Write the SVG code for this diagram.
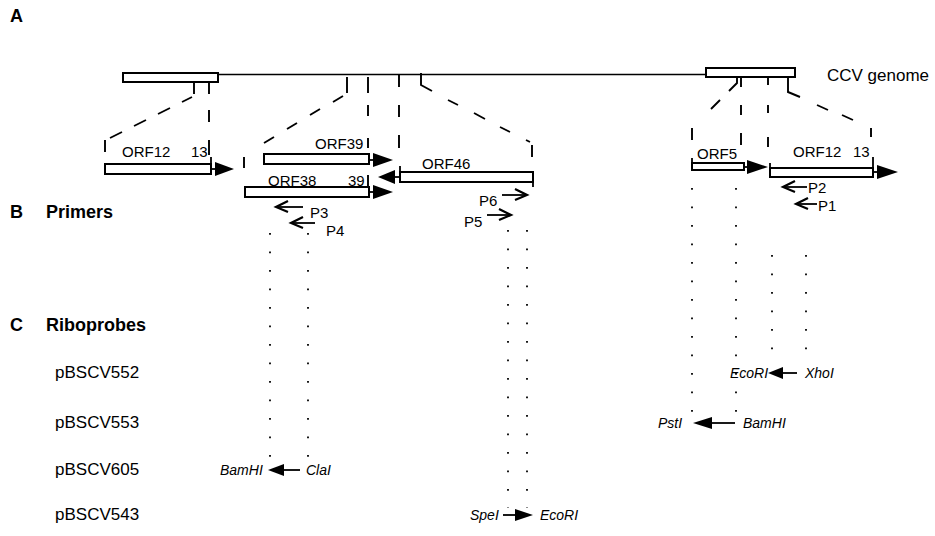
<svg xmlns="http://www.w3.org/2000/svg" width="935" height="536" viewBox="0 0 935 536">
<defs>
<style>
text{font-family:"Liberation Sans",Arial,sans-serif;fill:#000}
.orf{font-size:15px}
.big{font-size:17px}
.hd{font-size:18px;font-weight:bold}
.pl{font-size:15px}
.re{font-size:14px;font-style:italic}
.box{fill:#fff;stroke:#000;stroke-width:2}
.ln{fill:none;stroke:#000;stroke-width:1.8}
.gl{fill:none;stroke:#000;stroke-width:1.5}
.dsh{fill:none;stroke:#000;stroke-width:1.9}
.dot{fill:none;stroke:#000;stroke-width:1.8;stroke-dasharray:1.8 16.7}
.head{fill:#000;stroke:none}
.open{fill:none;stroke:#000;stroke-width:2.2;stroke-linejoin:miter}
</style>
</defs>
<rect width="935" height="536" fill="#fff"/>

<g id="section-labels">
<text class="hd" x="10" y="22">A</text>
<text class="hd" x="10" y="218">B</text>
<text class="hd" x="46" y="218">Primers</text>
<text class="hd" x="10" y="331">C</text>
<text class="hd" x="46" y="331">Riboprobes</text>
<text class="big" x="55" y="378">pBSCV552</text>
<text class="big" x="55" y="428">pBSCV553</text>
<text class="big" x="55" y="475">pBSCV605</text>
<text class="big" x="55" y="520">pBSCV543</text>
</g>

<g id="genome">
<line class="gl" x1="218" y1="74.5" x2="706" y2="74.5"/>
<rect class="box" x="123" y="73" width="95" height="9"/>
<rect class="box" x="706" y="68" width="89" height="9"/>
<text class="big" x="827" y="81">CCV genome</text>
</g>

<g id="connectors">
<path class="dsh" d="M194,82 V94 M192,97 L182,102 M170,108 L158,114 M146,120 L134,126 M122,132 L110,138 M105,140 V152"/>
<path class="dsh" d="M209,82 V94 M209,110 V122 M209,140 V155"/>
<path class="dsh" d="M347,77 V93 M343,96 L333,102 M320,109 L310,115 M297,123 L287,129 M274,137 L264,143 M244,157 V168"/>
<path class="dsh" d="M368,77 V93 M368,105 V116 M368,138 V148 M368,175 V187"/>
<path class="dsh" d="M399,75 V87 M399,105 V117 M399,135 V148"/>
<path class="dsh" d="M421,73 V85 L432,91 M448,100 L458,105 M474,113 L485,119 M500,127 L510,132 M526,140 L530,142 M532,145 V157"/>
<path class="dsh" d="M737,77 V83 L729,91 M720,100 L711,109 M692,128 V140"/>
<path class="dsh" d="M741,77 V87 M741,105 V115 M741,133 V145"/>
<path class="dsh" d="M768,77 V85 M768,105 V113 M768,137 V147"/>
<path class="dsh" d="M788,77 V92 L800,97 M817,105 L828,110 M842,115 L853,120 M871,128 V137"/>
<path class="dot" d="M270,233 V462 M308,233 V462"/>
<path class="dot" d="M508,230 V508 M527,230 V508"/>
<path class="dot" d="M692,188 V416 M736,188 V416"/>
<path class="dot" d="M772,255 V365 M806,255 V365"/>
</g>

<g id="orf12-left">
<rect class="box" x="105" y="164" width="106" height="10"/>
<path class="ln" d="M211,157 V164"/>
<line class="ln" x1="211" y1="169" x2="216" y2="169"/>
<polygon class="head" points="215,162 234,169 215,176"/>
<text class="orf" x="122" y="157">ORF12</text>
<text class="orf" x="191" y="157">13</text>
</g>

<g id="orf39">
<rect class="box" x="264" y="154" width="105" height="10"/>
<line class="ln" x1="369" y1="160" x2="374" y2="160"/>
<polygon class="head" points="373,153 393,160 373,167"/>
<text class="orf" x="315" y="149">ORF39</text>
</g>

<g id="orf38">
<rect class="box" x="245" y="187" width="124" height="10"/>
<line class="ln" x1="369" y1="192" x2="374" y2="192"/>
<polygon class="head" points="373,185 393,192 373,199"/>
<text class="orf" x="268" y="186">ORF38</text>
<text class="orf" x="348" y="186">39</text>
</g>

<g id="orf46">
<rect class="box" x="400" y="172" width="133" height="10"/>
<path class="ln" d="M400,166 V182 M533,172 V187"/>
<line class="ln" x1="394" y1="177" x2="400" y2="177"/>
<polygon class="head" points="395,170 378,177 395,184"/>
<text class="orf" x="422" y="169">ORF46</text>
</g>

<g id="orf5">
<rect class="box" x="692" y="163" width="52" height="7"/>
<path class="ln" d="M692,158 V163"/>
<line class="ln" x1="744" y1="167" x2="748" y2="167"/>
<polygon class="head" points="747,160 768,167 747,174"/>
<text class="orf" x="697" y="159">ORF5</text>
</g>

<g id="orf12-right">
<rect class="box" x="770" y="168" width="103" height="9"/>
<path class="ln" d="M770,163 V168 M873,157 V168"/>
<line class="ln" x1="873" y1="172" x2="878" y2="172"/>
<polygon class="head" points="877,165 898,172 877,179"/>
<text class="orf" x="793" y="157">ORF12</text>
<text class="orf" x="853" y="157">13</text>
</g>

<g id="primer-p3">
<line class="ln" x1="276" y1="207" x2="303" y2="207"/>
<path class="open" d="M288,201 L276,207 L288,212"/>
<text class="pl" x="310" y="218">P3</text>
</g>
<g id="primer-p4">
<line class="ln" x1="291" y1="223" x2="315" y2="223"/>
<path class="open" d="M303,217 L291,223 L303,228"/>
<text class="pl" x="326" y="236">P4</text>
</g>
<g id="primer-p6">
<line class="ln" x1="502" y1="195" x2="527" y2="195"/>
<path class="open" d="M515,189 L527,195 L515,200"/>
<text class="pl" x="479" y="206">P6</text>
</g>
<g id="primer-p5">
<line class="ln" x1="487" y1="215" x2="511" y2="215"/>
<path class="open" d="M499,209 L511,215 L499,220"/>
<text class="pl" x="464" y="227">P5</text>
</g>
<g id="primer-p2">
<line class="ln" x1="783" y1="187" x2="807" y2="187"/>
<path class="open" d="M795,181 L783,187 L795,192"/>
<text class="pl" x="808" y="193">P2</text>
</g>
<g id="primer-p1">
<line class="ln" x1="796" y1="204" x2="817" y2="204"/>
<path class="open" d="M808,198 L796,204 L808,209"/>
<text class="pl" x="818" y="211">P1</text>
</g>

<g id="probe-pBSCV552">
<text class="re" x="730" y="378">EcoRI</text>
<polygon class="head" points="768,373 783,367 783,379"/>
<line class="ln" x1="782" y1="373" x2="797" y2="373"/>
<text class="re" x="805" y="378">XhoI</text>
</g>
<g id="probe-pBSCV553">
<text class="re" x="658" y="428">PstI</text>
<polygon class="head" points="693,423 712,417 712,429"/>
<line class="ln" x1="711" y1="423" x2="735" y2="423"/>
<text class="re" x="743" y="428">BamHI</text>
</g>
<g id="probe-pBSCV605">
<text class="re" x="220" y="475">BamHI</text>
<polygon class="head" points="268,470 284,464 284,476"/>
<line class="ln" x1="283" y1="470" x2="300" y2="470"/>
<text class="re" x="306" y="475">ClaI</text>
</g>
<g id="probe-pBSCV543">
<text class="re" x="470" y="520">SpeI</text>
<line class="ln" x1="503" y1="515" x2="516" y2="515"/>
<polygon class="head" points="515,509 533,515 515,521"/>
<text class="re" x="540" y="520">EcoRI</text>
</g>
</svg>
